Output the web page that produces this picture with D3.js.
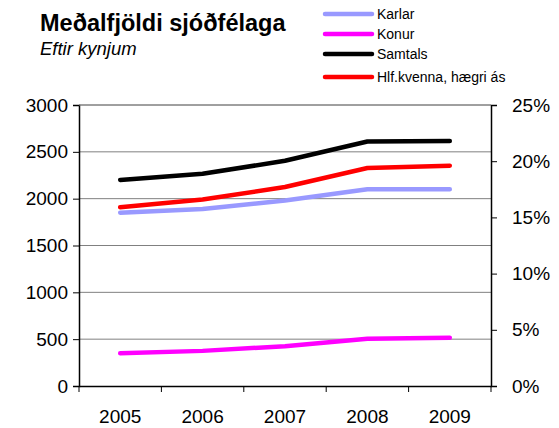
<!DOCTYPE html>
<html>
<head>
<meta charset="utf-8">
<script src="https://d3js.org/d3.v7.min.js"></script>
<style>
  body { margin: 0; background: #fff; }
  text { font-family: "Liberation Sans", Arial, sans-serif; fill: #000; }
</style>
</head>
<body>
<svg id="chart" width="559" height="428"></svg>
<script>
  const years = ["2005", "2006", "2007", "2008", "2009"];
  const karlar = [1850, 1890, 1980, 2100, 2100];
  const konur = [350, 375, 425, 505, 515];
  const samtals = [2200, 2265, 2405, 2610, 2615];
  const hlfKvenna = [15.9, 16.6, 17.7, 19.4, 19.6];
  const leftTicks = [0, 500, 1000, 1500, 2000, 2500, 3000];
  const rightTicks = [0, 5, 10, 15, 20, 25];

  const svg = d3.select("#chart");
  const margin = { top: 105, right: 68, bottom: 42, left: 79 };
  const width = 559 - margin.left - margin.right;
  const height = 428 - margin.top - margin.bottom;
  const g = svg.append("g").attr("transform", "translate(" + margin.left + "," + margin.top + ")");

  const x = d3.scaleBand().domain(years).range([0, width]);
  const y = d3.scaleLinear().domain([0, 3000]).range([height, 0]);
  const y2 = d3.scaleLinear().domain([0, 25]).range([height, 0]);

  // gridlines
  g.selectAll("line.grid")
    .data(leftTicks.slice(1))
    .join("line")
    .attr("class", "grid")
    .attr("x1", 0).attr("x2", width)
    .attr("y1", d => y(d)).attr("y2", d => y(d))
    .attr("stroke", "#808080").attr("stroke-width", 1);

  // left axis
  const yAxis = g.append("g")
    .call(d3.axisLeft(y).tickValues(leftTicks).tickFormat(d3.format("d")).tickSize(6).tickPadding(5));
  yAxis.select(".domain").attr("stroke", "#000").attr("stroke-width", 1.5);
  yAxis.selectAll("text").style("font-size", "19px");

  // right axis
  const y2Axis = g.append("g")
    .attr("transform", "translate(" + width + ",0)")
    .call(d3.axisRight(y2).tickValues(rightTicks).tickFormat(d => d + "%").tickSize(6).tickPadding(15));
  y2Axis.select(".domain").attr("stroke", "#000").attr("stroke-width", 1.5);
  y2Axis.selectAll("text").style("font-size", "19px");

  // bottom axis
  const xAxis = g.append("g")
    .attr("transform", "translate(0," + height + ")")
    .call(d3.axisBottom(x).tickSize(0).tickPadding(24));
  xAxis.select(".domain").attr("stroke", "#000").attr("stroke-width", 1.5);
  xAxis.selectAll("text").style("font-size", "19px");
  xAxis.selectAll("line.xt")
    .data(years.concat(["end"]))
    .join("line")
    .attr("class", "xt")
    .attr("x1", (d, i) => i * x.step()).attr("x2", (d, i) => i * x.step())
    .attr("y1", 0).attr("y2", 6)
    .attr("stroke", "#000");

  // top border
  g.append("line")
    .attr("x1", 0).attr("x2", width).attr("y1", 0).attr("y2", 0)
    .attr("stroke", "#808080");

  const cx = d => x(d) + x.bandwidth() / 2;
  const series = [
    { name: "Karlar", values: karlar, color: "#9999ff", scale: y },
    { name: "Konur", values: konur, color: "#ff00ff", scale: y },
    { name: "Samtals", values: samtals, color: "#000000", scale: y },
    { name: "Hlf.kvenna, hægri ás", values: hlfKvenna, color: "#ff0000", scale: y2 }
  ];

  series.forEach(s => {
    const line = d3.line()
      .x((d, i) => cx(years[i]))
      .y(d => s.scale(d));
    g.append("path")
      .datum(s.values)
      .attr("d", line)
      .attr("fill", "none")
      .attr("stroke", s.color)
      .attr("stroke-width", 4.5)
      .attr("stroke-linecap", "round")
      .attr("stroke-linejoin", "round");
  });

  // legend
  const legend = svg.append("g").attr("transform", "translate(325,14)");
  const legendY = [0, 20, 40, 63];
  series.forEach((s, i) => {
    const row = legend.append("g").attr("transform", "translate(0," + legendY[i] + ")");
    row.append("line")
      .attr("x1", 0).attr("x2", 47).attr("y1", 0).attr("y2", 0)
      .attr("stroke", s.color).attr("stroke-width", 4.5)
      .attr("stroke-linecap", "round");
    row.append("text")
      .attr("x", 52).attr("y", 5)
      .style("font-size", "14px")
      .text(s.name);
  });

  // title
  svg.append("text")
    .attr("x", 40).attr("y", 31)
    .style("font-size", "23.5px").style("font-weight", "bold")
    .text("Meðalfjöldi sjóðfélaga");
  svg.append("text")
    .attr("x", 40).attr("y", 55)
    .style("font-size", "18.5px").style("font-style", "italic")
    .text("Eftir kynjum");
</script>
</body>
</html>
